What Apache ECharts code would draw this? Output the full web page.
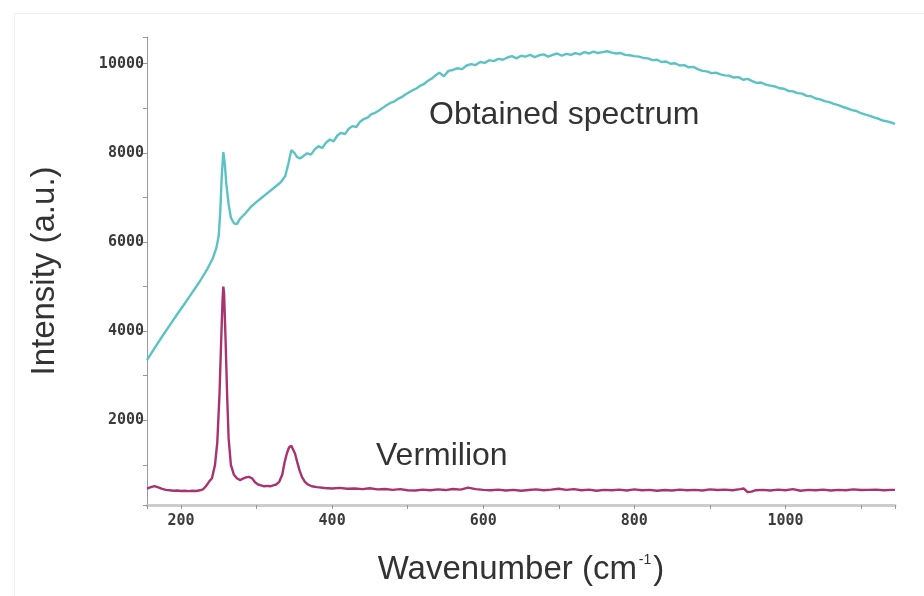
<!DOCTYPE html>
<html>
<head>
<meta charset="utf-8">
<script src="https://cdn.jsdelivr.net/npm/echarts@6/dist/echarts.min.js"></script>
<style>
  html, body { margin: 0; padding: 0; background: #fff; }
  #chart { width: 924px; height: 596px; }
</style>
</head>
<body>
<div id="chart"></div>
<script>
// Obtained spectrum (cyan)
const obtainedWn = [
  155, 165, 175, 185, 195, 205, 215, 225, 235, 242, 247, 250, 252, 254, 256, 258, 260, 263, 266, 270,
  274, 278, 285, 292, 300, 308, 316, 324, 332, 338, 342, 346, 350, 354, 358, 362, 367, 372, 377, 382,
  387, 392, 397, 402, 407, 412, 417, 422, 427, 432, 437, 442, 447, 452, 457, 462, 467, 472, 477, 482,
  487, 492, 497, 502, 507, 512, 517, 522, 527, 532, 537, 542, 548, 554, 560, 566, 572, 578, 584, 590,
  596, 602, 608, 614, 620, 626, 632, 638, 644, 650, 656, 662, 668, 674, 680, 686, 692, 698, 704, 710,
  716, 722, 728, 734, 740, 746, 752, 758, 764, 770, 776, 782, 788, 794, 800, 806, 812, 818, 824, 830,
  836, 842, 848, 854, 860, 866, 872, 878, 884, 890, 896, 902, 908, 914, 920, 926, 932, 938, 944, 950,
  956, 962, 968, 974, 980, 986, 992, 998, 1004, 1010, 1016, 1022, 1028, 1034, 1040, 1046, 1052, 1058, 1064, 1070,
  1076, 1082, 1088, 1094, 1100, 1106, 1112, 1118, 1124, 1130, 1136, 1142, 1145
];
const obtainedInt = [
  3350, 3620, 3880, 4130, 4380, 4620, 4870, 5120, 5400, 5630, 5880, 6150, 6700, 7500, 8020, 7750, 7300, 6850, 6550, 6420,
  6400, 6520, 6640, 6780, 6900, 7010, 7120, 7230, 7340, 7480, 7750, 8060, 8000, 7900, 7880, 7930, 7990, 7960, 8080, 8150,
  8110, 8230, 8300, 8260, 8390, 8450, 8420, 8540, 8600, 8580, 8700, 8760, 8790, 8870, 8900, 8950, 9010, 9070, 9120, 9150,
  9210, 9250, 9310, 9360, 9410, 9450, 9510, 9550, 9620, 9670, 9740, 9800, 9720, 9840, 9860, 9900, 9880, 9960, 9990, 9970,
  10040, 10020, 10080, 10060, 10110, 10090, 10140, 10170, 10120, 10180, 10160, 10200, 10150, 10190, 10210, 10160, 10200, 10230, 10180, 10220,
  10200, 10240, 10210, 10260, 10230, 10270, 10240, 10260, 10280, 10250, 10230, 10240, 10200, 10190, 10170, 10160, 10130, 10120, 10080, 10090,
  10040, 10050, 10000, 10010, 9960, 9970, 9920, 9930, 9880, 9840, 9830, 9790, 9800, 9760, 9740, 9730, 9690, 9700, 9640, 9660,
  9610, 9570, 9580, 9530, 9510, 9490, 9450, 9440, 9390, 9380, 9340, 9330, 9280, 9270, 9220, 9200, 9160, 9140, 9100, 9070,
  9030, 9000, 8960, 8940, 8890, 8860, 8830, 8790, 8760, 8720, 8700, 8670, 8650
];

// Vermilion reference (magenta)
const vermilionWn = [
  155, 160, 165, 170, 175, 180, 185, 190, 195, 200, 205, 210, 215, 220, 225, 229, 233, 237, 241, 245,
  248, 251, 253, 255, 256, 257, 259, 261, 263, 266, 270, 274, 278, 282, 286, 290, 294, 298, 302, 306,
  310, 314, 318, 322, 326, 330, 334, 337, 340, 343, 346, 348, 351, 354, 357, 360, 364, 368, 373, 380,
  390, 400, 410, 420, 430, 440, 450, 460, 470, 480, 490, 500, 510, 520, 530, 540, 550, 560, 570, 580,
  590, 600, 610, 620, 630, 640, 650, 660, 670, 680, 690, 700, 710, 720, 730, 740, 750, 760, 770, 780,
  790, 800, 810, 820, 830, 840, 850, 860, 870, 880, 890, 900, 910, 920, 930, 940, 945, 950, 955, 960,
  970, 980, 990, 1000, 1010, 1020, 1030, 1040, 1050, 1060, 1070, 1080, 1090, 1100, 1110, 1120, 1130, 1140, 1145
];
const vermilionInt = [
  470, 500, 525, 495, 460, 440, 430, 420, 425, 415, 420, 410, 420, 415, 430, 450, 520, 620, 700, 1000,
  1500, 2600, 3700, 4700, 5000, 4850, 3800, 2600, 1600, 1000, 780, 700, 660, 690, 720, 730, 700, 610, 560, 540,
  520, 530, 520, 540, 560, 620, 780, 1050, 1250, 1390, 1430, 1410, 1250, 1050, 870, 730, 620, 560, 520, 500,
  480, 470, 485, 465, 470, 455, 475, 450, 460, 440, 455, 430, 425, 445, 430, 450, 435, 460, 445, 490,
  455, 440, 430, 445, 425, 440, 420, 435, 450, 430, 445, 465, 440, 455, 430, 445, 420, 440, 430, 445,
  425, 450, 430, 440, 420, 435, 425, 445, 430, 440, 425, 450, 435, 445, 430, 455, 470, 390, 400, 430,
  440, 425, 445, 430, 455, 420, 440, 430, 445, 425, 440, 430, 450, 435, 440, 445, 430, 440, 440
];

const labelFont = 'DejaVu Sans Mono';
const textFont = 'Liberation Sans';

const chart = echarts.init(document.getElementById('chart'));

const option = {
  animation: false,
  backgroundColor: '#ffffff',
  grid: { left: 147, right: 29, top: 37, bottom: 91 },
  xAxis: {
    type: 'value',
    min: 155,
    max: 1145,
    splitNumber: 10,
    name: 'Wavenumber (cm{sup|-1})',
    nameLocation: 'middle',
    nameGap: 48,
    nameTextStyle: {
      fontFamily: textFont,
      fontSize: 33,
      color: '#333',
      rich: {
        sup: { fontFamily: textFont, fontSize: 14, color: '#333', verticalAlign: 'top', padding: [0, 2, 14, 2] }
      }
    },
    axisLine: { lineStyle: { color: '#cccccc', width: 3 } },
    axisTick: { show: true, length: 4, lineStyle: { color: '#999' } },
    axisLabel: {
      margin: 9,
      fontFamily: labelFont,
      fontWeight: 'bold',
      fontSize: 15,
      color: '#3a3a3a',
      formatter: v => (v % 200 === 0 ? String(v) : '')
    },
    splitLine: { show: false }
  },
  yAxis: {
    type: 'value',
    min: 100,
    max: 10600,
    splitNumber: 10,
    name: 'Intensity (a.u.)',
    nameLocation: 'middle',
    nameGap: 86,
    nameTextStyle: { fontFamily: textFont, fontSize: 33, color: '#333' },
    axisLine: { show: true, lineStyle: { color: '#999', width: 1 } },
    axisTick: { show: true, length: 4, lineStyle: { color: '#999' } },
    axisLabel: {
      margin: 3,
      fontFamily: labelFont,
      fontWeight: 'bold',
      fontSize: 15,
      color: '#3a3a3a',
      formatter: v => (v % 2000 === 0 && v > 0 ? String(v) : '')
    },
    splitLine: { show: false }
  },
  graphic: [
    {
      type: 'rect', left: 12, top: 11, z: -1,
      shape: { width: 912, height: 585 },
      style: { fill: 'none', stroke: '#eeeeee', lineWidth: 1 }
    },
    {
      type: 'text', left: 429, top: 99,
      style: { text: 'Obtained spectrum', fontFamily: textFont, fontSize: 32, fill: '#333' }
    },
    {
      type: 'text', left: 376, top: 440,
      style: { text: 'Vermilion', fontFamily: textFont, fontSize: 32, fill: '#333' }
    }
  ],
  series: [
    {
      name: 'Obtained spectrum',
      type: 'line',
      symbol: 'none',
      lineStyle: { color: '#5cc3c5', width: 2.4 },
      data: obtainedWn.map((x, i) => [x, obtainedInt[i]])
    },
    {
      name: 'Vermilion',
      type: 'line',
      symbol: 'none',
      lineStyle: { color: '#a8336e', width: 2.4 },
      data: vermilionWn.map((x, i) => [x, vermilionInt[i]])
    }
  ]
};

chart.setOption(option);
window.addEventListener('resize', () => chart.resize());
</script>
</body>
</html>
